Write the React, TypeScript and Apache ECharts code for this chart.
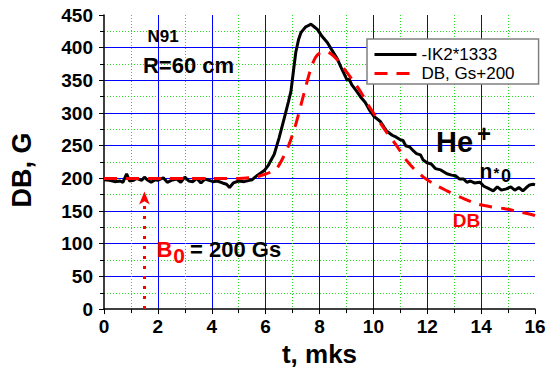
import React, { useEffect, useRef } from "react";
import * as echarts from "echarts";

const FONT = '"Liberation Sans", Arial, sans-serif';

// -IK2*1333 (black solid)
const blackT = [
  0, 0.2, 0.4, 0.6, 0.7, 0.84, 0.95, 1.1, 1.2, 1.4, 1.5, 1.6, 1.75, 1.9, 2.0, 2.2, 2.35, 2.5, 2.7, 2.85,
  3.0, 3.15, 3.3, 3.45, 3.6, 3.75, 3.9, 4.05, 4.2, 4.4, 4.55, 4.66, 4.8, 5.0, 5.2, 5.4, 5.5, 5.7, 5.95,
  6.1, 6.32, 6.5, 6.69, 6.85, 6.94, 7.05, 7.12, 7.22, 7.31, 7.49, 7.6, 7.68, 7.8, 7.92, 8.1, 8.29, 8.45,
  8.66, 8.8, 9.03, 9.1, 9.2, 9.35, 9.52, 9.7, 9.85, 10.02, 10.26, 10.4, 10.5, 10.7, 10.85, 11.0, 11.1,
  11.2, 11.35, 11.49, 11.6, 11.75, 11.85, 11.99, 12.15, 12.3, 12.5, 12.73, 12.9, 13.05, 13.2, 13.35,
  13.47, 13.6, 13.75, 13.96, 14.1, 14.25, 14.45, 14.6, 14.75, 14.94, 15.1, 15.25, 15.4, 15.55, 15.68,
  15.8, 15.93, 16,
];
const blackB = [
  198, 197, 195, 196, 194, 207, 196, 197, 200, 197, 202, 198, 194, 198, 197, 201, 194, 197, 199, 194,
  202, 196, 195, 200, 193, 199, 197, 195, 196, 193, 191, 186, 193, 196, 195, 197, 198, 205, 212,
  220, 237, 262, 292, 318, 333, 370, 393, 412, 423, 432, 434, 436, 432, 428, 417, 408, 397,
  383, 370, 350, 352, 343, 335, 325, 316, 305, 295, 287, 278, 272, 266, 263, 259, 258,
  250, 248, 242, 238, 236, 228, 224, 222, 215, 213, 207, 205, 204, 199, 199,
  194, 196, 193, 194, 188, 185, 181, 187, 182, 184, 187, 182, 186, 181, 186,
  190, 191, 190,
];

// DB, Gs+200 (red dashed)
const redT = [
  0, 2, 4, 5, 5.6, 5.95, 6.2, 6.44, 6.65, 6.87, 7.1, 7.31, 7.5, 7.68, 7.85, 8.05, 8.25, 8.41, 8.65,
  8.91, 9.2, 9.52, 9.8, 10.14, 10.5, 10.88, 11.2, 11.5, 11.86, 12.3, 12.73, 13.3, 13.84, 14.3, 14.82,
  15.4, 15.93, 16,
];
const redB = [
  200, 200, 200, 200, 202, 206, 210, 217, 232, 252, 280, 312, 342, 368, 385, 393, 394, 391, 382,
  368, 352, 333, 313, 292, 270, 249, 229, 215, 202, 190, 181, 170, 161, 157, 154,
  149, 144, 143,
];

const seriesNames = ["-IK2*1333", "DB, Gs+200"];
const arrowT = 1.5;
const arrowTop = 180;

export default function App() {
  const ref = useRef<HTMLDivElement>(null);
  useEffect(() => {
    if (!ref.current) return;
    const chart = echarts.init(ref.current, undefined, { renderer: "svg" });
    const txt = (x: number, y: number, text: string, size: number, color: string, align = "left", weight = "bold") => ({
      type: "text",
      x,
      y,
      z: 100,
      style: {
        text,
        font: `${weight} ${size}px ${FONT}`,
        fill: color,
        align,
        verticalAlign: "middle",
        textAlign: align,
        textVerticalAlign: "middle",
      },
    });
    chart.setOption({
      animation: false,
      backgroundColor: "#fff",
      grid: { left: 102, right: 20, top: 15, bottom: 59, containLabel: false },
      xAxis: {
        type: "value",
        min: 0,
        max: 16,
        interval: 2,
        name: "t, mks",
        nameLocation: "middle",
        nameGap: 29,
        nameTextStyle: { fontFamily: FONT, fontWeight: "bold", fontSize: 26, color: "#000" },
        axisLine: { show: true, onZero: false, lineStyle: { color: "#000", width: 1.5 } },
        axisTick: { show: true, length: 5, lineStyle: { color: "#000", width: 1 } },
        minorTick: { show: true, splitNumber: 2, length: 4, lineStyle: { color: "#000", width: 1 } },
        axisLabel: { fontFamily: FONT, fontWeight: "bold", fontSize: 19, color: "#000", margin: 8 },
        splitLine: { show: true, showMaxLine: false, showMinLine: false, lineStyle: { color: "#0000ff", width: 1 } },
        minorSplitLine: { show: true, lineStyle: { color: "#22dd22", width: 1, type: [1, 2] } },
      },
      yAxis: {
        type: "value",
        min: 0,
        max: 450,
        interval: 50,
        name: "DB, G",
        nameLocation: "middle",
        nameGap: 69,
        nameTextStyle: { fontFamily: FONT, fontWeight: "bold", fontSize: 27, color: "#000", padding: [0, 16, 0, 0] },
        axisLine: { show: true, lineStyle: { color: "#000", width: 1.5 } },
        axisTick: { show: true, length: 5, lineStyle: { color: "#000", width: 1 } },
        minorTick: { show: true, splitNumber: 2, length: 4, lineStyle: { color: "#000", width: 1 } },
        axisLabel: { fontFamily: FONT, fontWeight: "bold", fontSize: 19, color: "#000", margin: 11 },
        splitLine: { show: true, showMaxLine: false, showMinLine: false, lineStyle: { color: "#0000ff", width: 1 } },
        minorSplitLine: { show: true, lineStyle: { color: "#22dd22", width: 1, type: [1, 2] } },
      },
      legend: {
        show: true,
        orient: "vertical",
        left: 367,
        top: 39,
        padding: [7, 24, 2, 6],
        itemWidth: 42,
        itemHeight: 10,
        itemGap: 2,
        backgroundColor: "#fff",
        borderColor: "#808080",
        borderWidth: 1.5,
        borderRadius: 0,
        itemStyle: { opacity: 0, color: "rgba(0,0,0,0)", borderWidth: 0 },
        lineStyle: { width: 3 },
        textStyle: { fontFamily: FONT, fontSize: 17, color: "#000" },
        data: seriesNames,
      },
      series: [
        {
          name: seriesNames[0],
          type: "line",
          data: blackT.map((t, i) => [t, blackB[i]]),
          showSymbol: false,
          symbol: "none",
          lineStyle: { color: "#000", width: 3 },
          itemStyle: { color: "#000" },
          z: 3,
        },
        {
          name: seriesNames[1],
          type: "line",
          data: redT.map((t, i) => [t, redB[i]]),
          showSymbol: false,
          symbol: "none",
          smooth: 0.3,
          lineStyle: { color: "#ff0000", width: 3, type: [13, 9] },
          itemStyle: { color: "#ff0000" },
          z: 4,
          markLine: {
            silent: true,
            symbol: ["none", "arrow"],
            symbolSize: [8, 13],
            label: { show: false },
            lineStyle: { color: "#ff0000", width: 3, type: [3, 7] },
            data: [[{ coord: [arrowT, 0] }, { coord: [arrowT, arrowTop] }]],
          },
        },
      ],
      graphic: [
        txt(163, 36.5, "N91", 17, "#000", "center"),
        txt(188.5, 65, "R=60 cm", 22, "#000", "center"),
        txt(454.5, 142, "He", 29, "#000", "center"),
        txt(484, 133, "+", 24, "#000", "center"),
        txt(486, 170, "n", 21, "#000", "center"),
        txt(496.5, 172, "*", 15, "#000", "center"),
        txt(506, 175.5, "0", 18, "#000", "center"),
        txt(466.5, 220, "DB", 19, "#ff0000", "center"),
        txt(164.5, 249, "B", 22, "#ff0000", "center"),
        txt(179, 255, "0", 21, "#ff0000", "center"),
        txt(190, 249.5, "= 200 Gs", 22, "#000", "left"),
      ],
    });
    return () => chart.dispose();
  }, []);
  return <div ref={ref} style={{ position: "absolute", left: 0, top: 0, width: 555, height: 372 }} />;
}
